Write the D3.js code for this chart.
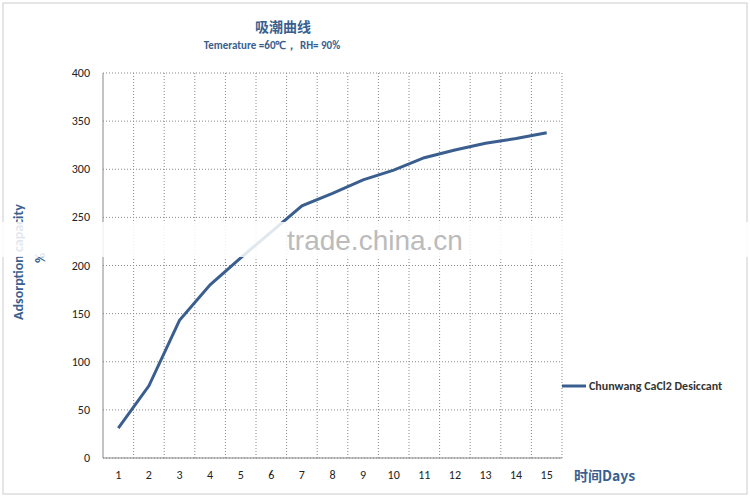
<!DOCTYPE html>
<html><head><meta charset="utf-8">
<script src="https://cdn.jsdelivr.net/npm/d3@7"></script>
<style>body{margin:0;background:#fff}</style>
</head><body>
<script>
var days = [1,2,3,4,5,6,7,8,9,10,11,12,13,14,15];
var absorption = [31,75,143,180,208,235,262,275,289,299,312,320,327,332,338];
var yTicks = [0,50,100,150,200,250,300,350,400];
var seriesName = "Chunwang CaCl2 Desiccant";

var w = 750, h = 499;
var blue = "#3a5f8f", font = "Calibri, 'Liberation Sans', sans-serif";
var svg = d3.select("body").append("svg").attr("width", w).attr("height", h);
svg.append("rect").attr("x",3).attr("y",3).attr("width",w-6).attr("height",h-8)
	.attr("fill","#fff").attr("stroke","#ccc");

var x = d3.scaleBand().domain(days).range([103,562]);
var y = d3.scaleLinear().domain([0,400]).range([458,73]);

// grid
var g = svg.append("g");
g.selectAll(".hg").data(yTicks).enter().append("line")
	.attr("x1",103).attr("x2",562).attr("y1",d=>y(d)).attr("y2",d=>y(d))
	.attr("stroke","#888").attr("stroke-dasharray","1,2");
g.selectAll(".vg").data(days).enter().append("line")
	.attr("x1",d=>x(d)+x.bandwidth()).attr("x2",d=>x(d)+x.bandwidth()).attr("y1",73).attr("y2",458)
	.attr("stroke","#888").attr("stroke-dasharray","1,2");
g.append("line").attr("x1",103).attr("x2",103).attr("y1",73).attr("y2",458).attr("stroke","#888");
g.append("line").attr("x1",103).attr("x2",562).attr("y1",458).attr("y2",458).attr("stroke","#888");

svg.selectAll(".yl").data(yTicks).enter().append("text")
	.attr("x",90).attr("y",d=>y(d)+4).attr("text-anchor","end")
	.attr("font-family",font).attr("font-size",12).attr("fill","#222").text(d=>d);
svg.selectAll(".xl").data(days).enter().append("text")
	.attr("x",d=>x(d)+x.bandwidth()/2).attr("y",479).attr("text-anchor","middle")
	.attr("font-family",font).attr("font-size",12).attr("fill","#222").text(d=>d);

var line = d3.line().x((d,i)=>x(days[i])+x.bandwidth()/2).y(d=>y(d));
svg.append("path").datum(absorption).attr("d",line).attr("fill","none")
	.attr("stroke",blue).attr("stroke-width",3);

// titles
svg.append("text").attr("x",283).attr("y",32).attr("text-anchor","middle")
	.attr("font-family","'Noto Sans CJK SC'").attr("font-weight","bold").attr("font-size",14).attr("fill",blue).text("吸潮曲线");
svg.append("text").attr("x",272).attr("y",49).attr("text-anchor","middle")
	.attr("font-family",font).attr("font-weight","bold").attr("font-size",11).attr("fill",blue).text("Temerature =60℃， RH= 90%");
svg.append("text").attr("transform","translate(23,262) rotate(-90)").attr("text-anchor","middle")
	.attr("font-family",font).attr("font-weight","bold").attr("font-size",14).attr("fill",blue).text("Adsorption capacity");
svg.append("text").attr("transform","translate(45,258) rotate(-90)").attr("text-anchor","middle")
	.attr("font-family",font).attr("font-weight","bold").attr("font-size",14).attr("fill",blue).text("%");
svg.append("text").attr("x",574).attr("y",481)
	.attr("font-family","'Noto Sans CJK SC'").attr("font-weight","bold").attr("font-size",14).attr("fill",blue).text("时间Days");

// legend
svg.append("line").attr("x1",562).attr("x2",586).attr("y1",386).attr("y2",386).attr("stroke",blue).attr("stroke-width",3);
svg.append("text").attr("x",589).attr("y",390).attr("font-family",font).attr("font-weight","bold")
	.attr("font-size",12).attr("fill","#333").text(seriesName);

// watermark band
svg.append("rect").attr("x",0).attr("y",222).attr("width",w).attr("height",35).attr("fill","#fff").attr("opacity",0.85);
svg.append("text").attr("x",375).attr("y",250).attr("text-anchor","middle")
	.attr("font-family","'Liberation Sans'").attr("font-size",28).attr("fill","#bbb").text("trade.china.cn");
</script>
</body></html>
